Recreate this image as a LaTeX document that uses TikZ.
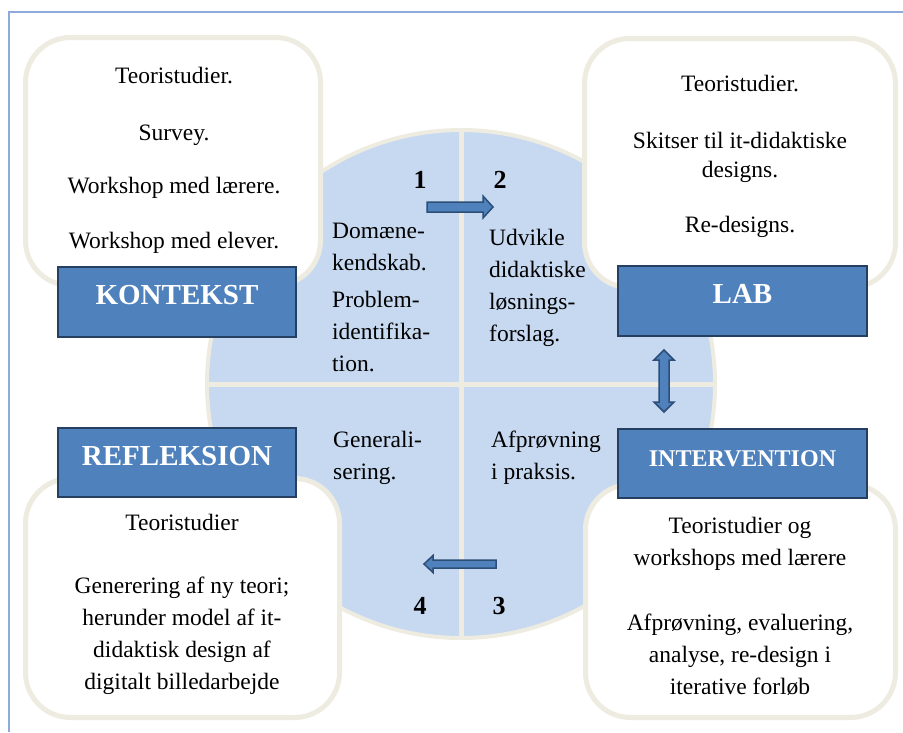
\documentclass[tikz,border=0pt]{standalone}
\usepackage{fontspec}
\setmainfont{Liberation Serif}
\definecolor{cream}{HTML}{EEECE1}
\definecolor{wheelblue}{HTML}{C6D9F1}
\definecolor{boxblue}{HTML}{4F81BD}
\definecolor{boxedge}{HTML}{243F60}
\definecolor{arrowedge}{HTML}{2C4D75}
\definecolor{framecol}{HTML}{8EAADB}
\begin{document}
\begin{tikzpicture}[x=1pt,y=-1pt,
  roundbox/.style={draw=cream, line width=5pt, fill=white, rounded corners=45pt, inner sep=0pt},
  labelbox/.style={draw=boxedge, line width=2pt, fill=boxblue, inner sep=0pt, text=white,
     font=\bfseries\fontsize{29}{32}\selectfont, text height=10pt, text depth=5pt},
  txt/.style={anchor=base, inner sep=0pt, font=\fontsize{23.5}{28}\selectfont},
  ltxt/.style={anchor=base west, inner sep=0pt, font=\fontsize{23.5}{28}\selectfont},
  num/.style={anchor=base, inner sep=0pt, font=\bfseries\fontsize{26}{28}\selectfont},
  blockarrow/.style={fill=boxblue, draw=arrowedge, line width=1.5pt, line join=miter}]
\useasboundingbox (0,0) rectangle (903,732);
\fill[white] (0,0) rectangle (903,732);
% frame
\draw[framecol, line width=2pt] (9,732) -- (9,12) -- (903,12);
% wheel
\node[circle, minimum size=508pt, fill=wheelblue, draw=cream, line width=4pt, inner sep=0pt] (wheel) at (461,384) {};
\draw[cream, line width=5pt] (wheel.north) -- (wheel.south);
\draw[cream, line width=5pt] (wheel.west) -- (wheel.east);
% rounded boxes
\node[roundbox, minimum width=295pt, minimum height=248pt] (tl) at (173,161.5) {};
\node[roundbox, minimum width=311pt, minimum height=249pt] (tr) at (740,163) {};
\node[roundbox, minimum width=314pt, minimum height=239pt] (bl) at (182.5,598) {};
\node[roundbox, minimum width=310pt, minimum height=233pt] (br) at (740.5,601) {};
% label boxes
\node[labelbox, minimum width=238pt, minimum height=70pt] (kontekst) at (177,302) {KONTEKST};
\node[labelbox, minimum width=238pt, minimum height=69pt] (refleksion) at (177,462.5) {REFLEKSION};
\node[labelbox, minimum width=249pt, minimum height=70pt] (lab) at (742.5,301) {LAB};
\node[labelbox, minimum width=249pt, minimum height=69pt, font=\bfseries\fontsize{24}{28}\selectfont] (intervention) at (742.5,463.5) {INTERVENTION};
% arrows
\draw[blockarrow] (427,202) -- (483,202) -- (483,196) -- (493,207) -- (483,218) -- (483,212) -- (427,212) -- cycle;
\draw[blockarrow] (496,560) -- (433,560) -- (433,555.5) -- (424,564) -- (433,572.5) -- (433,568) -- (496,568) -- cycle;
\draw[blockarrow] (659,360) -- (654,360) -- (664,350) -- (674,360) -- (669,360) -- (669,402) -- (674,402) -- (664,412) -- (654,402) -- (659,402) -- cycle;
% numbers
\node[num] (n1) at (420,188) {1};
\node[num] (n2) at (500,188) {2};
\node[num] (n4) at (420,614) {4};
\node[num] (n3) at (499,614) {3};
% top-left box text
\node[txt] (tl1) at (174,83) {Teoristudier.};
\node[txt] (tl2) at (174,140) {Survey.};
\node[txt] (tl3) at (174,193) {Workshop med lærere.};
\node[txt] (tl4) at (174,248) {Workshop med elever.};
% top-right box text
\node[txt] (tr1) at (740,91) {Teoristudier.};
\node[txt] (tr2) at (740,148) {Skitser til it-didaktiske};
\node[txt] (tr3) at (740,177) {designs.};
\node[txt] (tr4) at (740,232) {Re-designs.};
% bottom-left box text
\node[txt] (bl1) at (182,530) {Teoristudier};
\node[txt] (bl2) at (182,593) {Generering af ny teori;};
\node[txt] (bl3) at (182,625) {herunder model af it-};
\node[txt] (bl4) at (182,657) {didaktisk design af};
\node[txt] (bl5) at (182,689) {digitalt billedarbejde};
% bottom-right box text
\node[txt] (br1) at (740,533) {Teoristudier og};
\node[txt] (br2) at (740,565) {workshops med lærere};
\node[txt] (br3) at (740,630) {Afprøvning, evaluering,};
\node[txt] (br4) at (740,662) {analyse, re-design i};
\node[txt] (br5) at (740,694) {iterative forløb};
% wheel text
\node[ltxt] (q1a) at (332,238) {Domæne-};
\node[ltxt] (q1b) at (332,270) {kendskab.};
\node[ltxt] (q1c) at (332,307) {Problem-};
\node[ltxt] (q1d) at (332,339) {identifika-};
\node[ltxt] (q1e) at (332,371) {tion.};
\node[ltxt] (q2a) at (489,245) {Udvikle};
\node[ltxt] (q2b) at (489,277) {didaktiske};
\node[ltxt] (q2c) at (489,309) {løsnings-};
\node[ltxt] (q2d) at (489,341) {forslag.};
\node[ltxt] (q4a) at (333,447) {Generali-};
\node[ltxt] (q4b) at (333,479) {sering.};
\node[ltxt] (q3a) at (491,447) {Afprøvning};
\node[ltxt] (q3b) at (491,479) {i praksis.};
\end{tikzpicture}
\end{document}
